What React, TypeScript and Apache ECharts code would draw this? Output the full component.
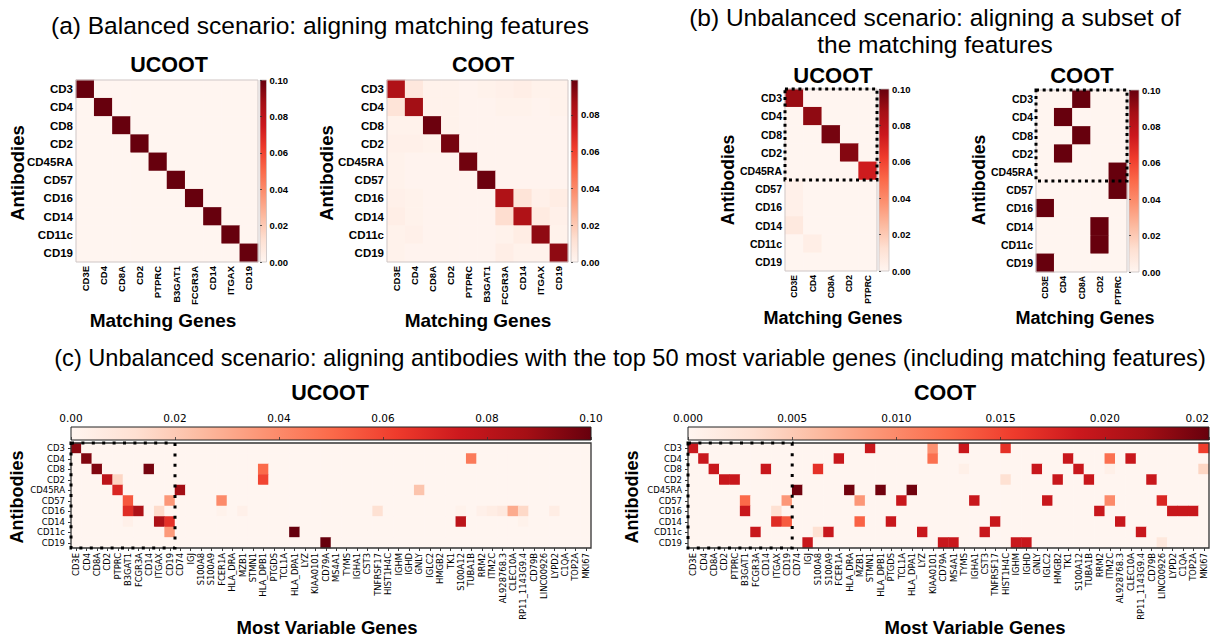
import React, { useEffect, useRef } from 'react';
import * as echarts from 'echarts';

// ---------------- DATA ----------------
const antibodies = ['CD3', 'CD4', 'CD8', 'CD2', 'CD45RA', 'CD57', 'CD16', 'CD14', 'CD11c', 'CD19'];
const matchingGenes = ['CD3E', 'CD4', 'CD8A', 'CD2', 'PTPRC', 'B3GAT1', 'FCGR3A', 'CD14', 'ITGAX', 'CD19'];
const subsetGenes = ['CD3E', 'CD4', 'CD8A', 'CD2', 'PTPRC'];
const variableGenes = [
  'CD3E', 'CD4', 'CD8A', 'CD2', 'PTPRC', 'B3GAT1', 'FCGR3A', 'CD14', 'ITGAX', 'CD19',
  'CD74', 'IGJ', 'S100A8', 'S100A9', 'FCER1A', 'HLA_DRA', 'MZB1', 'STMN1', 'HLA_DPB1', 'PTGDS',
  'TCL1A', 'HLA_DPA1', 'LYZ', 'KIAA0101', 'CD79A', 'MS4A1', 'TYMS', 'IGHA1', 'CST3', 'TNFRSF17',
  'HIST1H4C', 'IGHM', 'IGHD', 'GNLY', 'IGLC2', 'HMGB2', 'TK1', 'S100A12', 'TUBA1B', 'RRM2',
  'ITM2C', 'AL928768.3', 'CLEC10A', 'RP11_1143G9.4', 'CD79B', 'LINC00926', 'LYPD2', 'C1QA', 'TOP2A', 'MKI67',
];

// (a) balanced, rows = antibodies, cols = matchingGenes
const aUcoot = [
  [0.1, 0, 0, 0, 0, 0, 0, 0, 0, 0],
  [0, 0.1, 0, 0, 0, 0, 0, 0, 0, 0],
  [0, 0, 0.1, 0, 0, 0, 0, 0, 0, 0],
  [0, 0, 0, 0.1, 0, 0, 0, 0, 0, 0],
  [0, 0, 0, 0, 0.1, 0, 0, 0, 0, 0],
  [0, 0, 0, 0, 0, 0.1, 0, 0, 0, 0],
  [0, 0, 0, 0, 0, 0, 0.1, 0, 0, 0],
  [0, 0, 0, 0, 0, 0, 0, 0.1, 0, 0],
  [0, 0, 0, 0, 0, 0, 0, 0, 0.1, 0],
  [0, 0, 0, 0, 0, 0, 0, 0, 0, 0.1],
];
const aCoot = [
  [0.083, 0.008, 0.002, 0.002, 0.001, 0.002, 0.003, 0.004, 0.002, 0.002],
  [0.010, 0.087, 0.002, 0.002, 0.001, 0.001, 0.002, 0.002, 0.001, 0.002],
  [0.002, 0.002, 0.098, 0.002, 0.001, 0.001, 0.001, 0.001, 0.001, 0.001],
  [0.003, 0.003, 0.002, 0.096, 0.001, 0.001, 0.001, 0.001, 0.001, 0.001],
  [0.002, 0.001, 0.001, 0.001, 0.097, 0.001, 0.001, 0.001, 0.001, 0.001],
  [0.002, 0.001, 0.001, 0.001, 0.001, 0.098, 0.001, 0.001, 0.001, 0.001],
  [0.003, 0.002, 0.001, 0.001, 0.001, 0.001, 0.083, 0.010, 0.003, 0.005],
  [0.004, 0.002, 0.001, 0.001, 0.001, 0.001, 0.013, 0.083, 0.006, 0.003],
  [0.002, 0.003, 0.001, 0.001, 0.001, 0.001, 0.002, 0.005, 0.091, 0.002],
  [0.002, 0.001, 0.001, 0.001, 0.001, 0.001, 0.004, 0.002, 0.002, 0.091],
];

// (b) unbalanced, rows = antibodies, cols = subsetGenes
const bUcoot = [
  [0.090, 0, 0, 0, 0],
  [0, 0.092, 0, 0, 0],
  [0, 0, 0.097, 0, 0],
  [0, 0, 0, 0.094, 0],
  [0, 0, 0, 0, 0.074],
  [0.003, 0, 0, 0, 0],
  [0.003, 0, 0, 0, 0],
  [0.007, 0, 0, 0, 0],
  [0, 0.004, 0, 0, 0],
  [0, 0, 0, 0, 0],
];
const bCoot = [
  [0, 0, 0.1, 0, 0],
  [0, 0.1, 0, 0, 0],
  [0, 0, 0.1, 0, 0],
  [0, 0.1, 0, 0, 0],
  [0, 0, 0, 0, 0.1],
  [0, 0, 0, 0, 0.1],
  [0.1, 0, 0, 0, 0],
  [0, 0, 0, 0.1, 0],
  [0, 0, 0, 0.1, 0],
  [0.1, 0, 0, 0, 0],
];

// (c) top-50 variable genes: non-zero cells [antibody, gene, value]
const cUcootCells: [string, string, number][] = [
  ['CD3', 'CD3E', 0.093],
  ['CD4', 'CD4', 0.095], ['CD4', 'TUBA1B', 0.045],
  ['CD8', 'CD8A', 0.095], ['CD8', 'CD14', 0.097], ['CD8', 'HLA_DPB1', 0.05],
  ['CD2', 'CD2', 0.08], ['CD2', 'PTPRC', 0.016], ['CD2', 'HLA_DPB1', 0.06],
  ['CD45RA', 'PTPRC', 0.07], ['CD45RA', 'CD74', 0.088], ['CD45RA', 'GNLY', 0.022],
  ['CD57', 'B3GAT1', 0.055], ['CD57', 'CD19', 0.036], ['CD57', 'FCER1A', 0.04],
  ['CD16', 'B3GAT1', 0.068], ['CD16', 'FCGR3A', 0.085], ['CD16', 'ITGAX', 0.014],
  ['CD16', 'FCER1A', 0.002], ['CD16', 'MZB1', 0.003], ['CD16', 'TNFRSF17', 0.012],
  ['CD16', 'S100A12', 0.002], ['CD16', 'RRM2', 0.003], ['CD16', 'ITM2C', 0.005],
  ['CD16', 'AL928768.3', 0.007], ['CD16', 'CLEC10A', 0.03], ['CD16', 'RP11_1143G9.4', 0.015],
  ['CD16', 'LYPD2', 0.005],
  ['CD14', 'B3GAT1', 0.003], ['CD14', 'ITGAX', 0.085], ['CD14', 'CD19', 0.066],
  ['CD14', 'S100A12', 0.08], ['CD14', 'RP11_1143G9.4', 0.002],
  ['CD11c', 'CD19', 0.035], ['CD11c', 'HLA_DPA1', 0.1],
  ['CD19', 'CD79A', 0.1],
];
const cCootCells: [string, string, number][] = [
  ['CD3', 'CD3E', 0.019], ['CD3', 'STMN1', 0.019], ['CD3', 'KIAA0101', 0.0095], ['CD3', 'TYMS', 0.019],
  ['CD3', 'HIST1H4C', 0.0165], ['CD3', 'MKI67', 0.0155],
  ['CD4', 'CD4', 0.019], ['CD4', 'FCER1A', 0.019], ['CD4', 'KIAA0101', 0.012], ['CD4', 'TK1', 0.019],
  ['CD4', 'ITM2C', 0.012], ['CD4', 'CLEC10A', 0.019],
  ['CD8', 'CD8A', 0.019], ['CD8', 'CD14', 0.019], ['CD8', 'S100A8', 0.0165], ['CD8', 'TYMS', 0.0008],
  ['CD8', 'GNLY', 0.019], ['CD8', 'S100A12', 0.019], ['CD8', 'ITM2C', 0.0008], ['CD8', 'MKI67', 0.004],
  ['CD2', 'CD2', 0.019], ['CD2', 'PTPRC', 0.019], ['CD2', 'HIST1H4C', 0.003], ['CD2', 'HMGB2', 0.019],
  ['CD2', 'TUBA1B', 0.019], ['CD2', 'CD79B', 0.019],
  ['CD45RA', 'CD74', 0.0245], ['CD45RA', 'HLA_DRA', 0.0245], ['CD45RA', 'HLA_DPB1', 0.0245], ['CD45RA', 'HLA_DPA1', 0.0245],
  ['CD57', 'B3GAT1', 0.0125], ['CD57', 'CD19', 0.009], ['CD57', 'MZB1', 0.009], ['CD57', 'TCL1A', 0.019],
  ['CD57', 'IGHA1', 0.019], ['CD57', 'IGLC2', 0.019], ['CD57', 'ITM2C', 0.01], ['CD57', 'LINC00926', 0.0175],
  ['CD16', 'B3GAT1', 0.019], ['CD16', 'ITGAX', 0.003], ['CD16', 'RRM2', 0.019], ['CD16', 'LYPD2', 0.019],
  ['CD16', 'C1QA', 0.019], ['CD16', 'TOP2A', 0.019],
  ['CD14', 'ITGAX', 0.017], ['CD14', 'CD19', 0.0135], ['CD14', 'MZB1', 0.013], ['CD14', 'PTGDS', 0.019],
  ['CD14', 'TNFRSF17', 0.019], ['CD14', 'AL928768.3', 0.019],
  ['CD11c', 'FCGR3A', 0.019], ['CD11c', 'S100A8', 0.003], ['CD11c', 'S100A9', 0.019], ['CD11c', 'LYZ', 0.019],
  ['CD11c', 'CST3', 0.019], ['CD11c', 'RP11_1143G9.4', 0.019],
  ['CD19', 'IGJ', 0.019], ['CD19', 'CD79A', 0.019], ['CD19', 'MS4A1', 0.019], ['CD19', 'IGHM', 0.019],
  ['CD19', 'IGHD', 0.019], ['CD19', 'LINC00926', 0.002],
];

// colour-bar ranges
const cbMax = [0.1, 0.099, 0.1, 0.1, 0.1, 0.025];
const cbStep = [0.02, 0.02, 0.02, 0.02, 0.02, 0.005];

// ---------------- STYLE / LAYOUT ----------------
const REDS = ['#fff5f0', '#fee0d2', '#fcbba1', '#fc9272', '#fb6a4a', '#ef3b2c', '#cb181d', '#a50f15', '#67000d'];
const SANS = '"Liberation Sans", Arial, Helvetica, sans-serif';
const MPL = '"DejaVu Sans", sans-serif';

type Box = { left: number; top: number; width: number; height: number };
const heatGrids: Box[] = [
  { left: 76, top: 80, width: 182, height: 182 },
  { left: 387, top: 80, width: 181, height: 182 },
  { left: 785, top: 89, width: 92, height: 182 },
  { left: 1036, top: 90, width: 91, height: 182 },
  { left: 71, top: 443, width: 520, height: 105 },
  { left: 688, top: 443, width: 521, height: 105 },
];
const cbGrids: Box[] = [
  { left: 260, top: 80, width: 6.5, height: 182 },
  { left: 571, top: 80, width: 7, height: 182 },
  { left: 879, top: 89, width: 10, height: 182 },
  { left: 1129, top: 90, width: 10, height: 182 },
  { left: 71, top: 427, width: 520, height: 13 },
  { left: 688, top: 427, width: 521, height: 13 },
];

function dense(rows: number[][]): number[][] {
  const out: number[][] = [];
  rows.forEach((row, r) => row.forEach((v, c) => out.push([c, r, v])));
  return out;
}
function sparse(cells: [string, string, number][], genes: string[]): number[][] {
  const lookup = new Map<string, number>();
  cells.forEach(([ab, g, v]) => lookup.set(ab + '|' + g, v));
  const out: number[][] = [];
  antibodies.forEach((ab, r) =>
    genes.forEach((g, c) => out.push([c, r, lookup.get(ab + '|' + g) ?? 0]))
  );
  return out;
}

function buildOption() {
  const geneSets = [matchingGenes, matchingGenes, subsetGenes, subsetGenes, variableGenes, variableGenes];
  const datasets = [
    dense(aUcoot), dense(aCoot), dense(bUcoot), dense(bCoot),
    sparse(cUcootCells, variableGenes), sparse(cCootCells, variableGenes),
  ];
  const kind = ['a', 'a', 'b', 'b', 'c', 'c'];

  const grid: any[] = [];
  const xAxis: any[] = [];
  const yAxis: any[] = [];
  const series: any[] = [];
  const visualMap: any[] = [];

  heatGrids.forEach((g, i) => {
    grid.push({ ...g, containLabel: false, outerBoundsMode: 'none', show: false });
    const k = kind[i];
    const isC = k === 'c';
    xAxis.push({
      type: 'category', gridIndex: i, data: geneSets[i], position: 'bottom',
      axisLine: { show: false },
      axisTick: { show: isC, length: 3, alignWithLabel: true, lineStyle: { color: '#000', width: 0.8 } },
      splitLine: { show: false },
      axisLabel: {
        rotate: 90, interval: 0, color: '#000',
        fontFamily: isC ? MPL : SANS, fontWeight: isC ? 'normal' : 'bold',
        fontSize: isC ? 8.4 : k === 'a' ? 9.5 : 8.5,
        margin: isC ? 5 : 4,
      },
    });
    yAxis.push({
      type: 'category', gridIndex: i, data: antibodies, inverse: true,
      axisLine: { show: false },
      axisTick: { show: isC, length: 3, alignWithLabel: true, lineStyle: { color: '#000', width: 0.8 } },
      splitLine: { show: false },
      axisLabel: {
        interval: 0, color: '#000',
        fontFamily: isC ? MPL : SANS, fontWeight: isC ? 'normal' : 'bold',
        fontSize: isC ? 8.5 : k === 'a' ? 11.5 : 10.5,
        margin: isC ? 6 : 3,
      },
    });
    series.push({
      type: 'heatmap', xAxisIndex: i, yAxisIndex: i, data: datasets[i],
      itemStyle: { borderWidth: 0 }, emphasis: { disabled: true },
    });
    visualMap.push({
      type: 'continuous', seriesIndex: i, min: 0, max: cbMax[i], show: false,
      inRange: { color: REDS },
    });
  });

  cbGrids.forEach((g, j) => {
    const idx = heatGrids.length + j;
    const horizontal = j >= 4;
    const stops = REDS.map((c, n) => ({ offset: n / (REDS.length - 1), color: c }));
    const grad = horizontal
      ? new echarts.graphic.LinearGradient(0, 0, 1, 0, stops)
      : new echarts.graphic.LinearGradient(0, 1, 0, 0, stops);
    grid.push({
      ...g, containLabel: false, outerBoundsMode: 'none', show: true,
      backgroundColor: grad, borderColor: horizontal ? '#222' : '#c8c0c0', borderWidth: horizontal ? 1 : 0.8,
    });
    const step = cbStep[j];
    const max = cbMax[j];
    const valueAxis: any = {
      type: 'value', gridIndex: idx, min: 0, max, interval: step,
      axisLine: { show: false },
      splitLine: { show: false },
      axisTick: { show: true, length: horizontal ? 3 : 2, lineStyle: { color: '#333', width: 0.8 } },
    };
    if (horizontal) {
      const digits = step < 0.01 ? 3 : 2;
      xAxis.push({
        ...valueAxis, position: 'top',
        axisLabel: {
          fontFamily: MPL, fontSize: 10.5, color: '#000', margin: 4,
          alignMaxLabel: j === 5 ? 'right' : 'center',
          formatter: (v: number) => (j === 5 && v >= max - 1e-9 ? '0.02' : v.toFixed(digits)),
        },
      });
      yAxis.push({ type: 'value', gridIndex: idx, show: false, min: 0, max: 1 });
    } else {
      xAxis.push({ type: 'value', gridIndex: idx, show: false, min: 0, max: 1 });
      yAxis.push({
        ...valueAxis, position: 'right',
        axisLabel: {
          fontFamily: SANS, fontWeight: 'bold', fontSize: 9.5, color: '#000', margin: 3,
          formatter: (v: number) => {
            const q = v / step;
            return Math.abs(q - Math.round(q)) < 1e-6 ? v.toFixed(2) : '';
          },
        },
      });
    }
  });

  const text = (t: string, x: number, y: number, size: number, weight: string, rot = 0, family = SANS) => ({
    type: 'text', x, y, rotation: rot, z: 120,
    style: { text: t, fill: '#000', fontFamily: family, fontSize: size, fontWeight: weight, align: 'center', verticalAlign: 'middle' },
  });
  const frame = (g: Box, color: string, w: number) => ({
    type: 'rect', z: 90, silent: true,
    shape: { x: g.left, y: g.top, width: g.width, height: g.height },
    style: { fill: 'none', stroke: color, lineWidth: w },
  });
  const dotted = (x: number, y: number, w: number, h: number, dash: number[]) => ({
    type: 'rect', z: 100, silent: true,
    shape: { x, y, width: w, height: h },
    style: { fill: 'none', stroke: '#000', lineWidth: 3, lineDash: dash },
  });

  const [A1, A2, B1, B2, C1, C2] = heatGrids;
  const graphic: any[] = [
    text('(a) Balanced scenario: aligning matching features', 320, 25, 24.5, 'normal'),
    text('(b) Unbalanced scenario: aligning a subset of', 935, 17, 24.5, 'normal'),
    text('the matching features', 935, 44, 24.5, 'normal'),
    text('(c) Unbalanced scenario: aligning antibodies with the top 50 most variable genes (including matching features)', 630, 358, 23.6, 'normal'),

    text('UCOOT', 169, 65, 21.5, 'bold'),
    text('COOT', 483, 65, 21.5, 'bold'),
    text('UCOOT', 833, 75, 22, 'bold'),
    text('COOT', 1082, 75, 22, 'bold'),
    text('UCOOT', 330, 393, 21.5, 'bold'),
    text('COOT', 945, 393, 21.5, 'bold'),

    text('Antibodies', 17, 173, 18.5, 'bold', Math.PI / 2),
    text('Antibodies', 326, 173, 18.5, 'bold', Math.PI / 2),
    text('Antibodies', 728, 180, 17.5, 'bold', Math.PI / 2),
    text('Antibodies', 979, 180, 17.5, 'bold', Math.PI / 2),
    text('Antibodies', 17, 497, 18, 'bold', Math.PI / 2),
    text('Antibodies', 632, 497, 18, 'bold', Math.PI / 2),

    text('Matching Genes', 163, 320, 19, 'bold'),
    text('Matching Genes', 478, 320, 19, 'bold'),
    text('Matching Genes', 833, 318, 18, 'bold'),
    text('Matching Genes', 1085, 318, 18, 'bold'),
    text('Most Variable Genes', 327, 627, 18.5, 'bold'),
    text('Most Variable Genes', 975, 627, 18.5, 'bold'),

    frame(A1, '#cfc7c7', 1),
    frame(A2, '#cfc7c7', 1),
    frame(B1, '#cfc7c7', 1),
    frame(B2, '#cfc7c7', 1),
    frame(C1, '#333', 1.3),
    frame(C2, '#333', 1.3),

    dotted(B1.left, B1.top, B1.width, (B1.height * 5) / antibodies.length, [3, 3.7]),
    dotted(B2.left, B2.top, B2.width, (B2.height * 5) / antibodies.length, [3, 3.7]),
    dotted(C1.left, C1.top, (C1.width * matchingGenes.length) / variableGenes.length, C1.height, [3, 7.4]),
    dotted(C2.left, C2.top, (C2.width * matchingGenes.length) / variableGenes.length, C2.height, [3, 7.4]),
  ];

  return {
    animation: false,
    backgroundColor: '#ffffff',
    grid, xAxis, yAxis, series, visualMap, graphic,
  };
}

export default function App() {
  const ref = useRef<HTMLDivElement>(null);
  useEffect(() => {
    document.body.style.margin = '0';
    const chart = echarts.init(ref.current as HTMLDivElement, null, { renderer: 'svg' });
    chart.setOption(buildOption() as any);
    return () => chart.dispose();
  }, []);
  return <div ref={ref} style={{ width: 1226, height: 639 }} />;
}
